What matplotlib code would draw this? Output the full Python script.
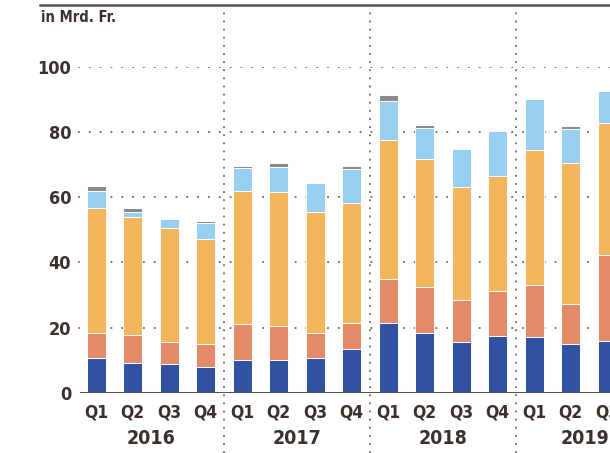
import matplotlib
matplotlib.use("Agg")
import matplotlib.pyplot as plt
import matplotlib.transforms as mtrans
import numpy as np

plt.rcParams['font.family'] = ['DejaVu Sans']
plt.rcParams['font.stretch'] = 'condensed'

years = ["2016", "2017", "2018", "2019"]
quarters = ["Q1", "Q2", "Q3", "Q4", "Q1", "Q2", "Q3", "Q4",
            "Q1", "Q2", "Q3", "Q4", "Q1", "Q2", "Q3"]
blue   = [10.6, 9.0, 8.7, 8.0, 10.0, 10.0, 10.6, 13.4, 21.3, 18.2, 15.6, 17.4, 17.2, 14.8, 15.9]
red    = [7.6, 8.7, 6.8, 7.0, 11.2, 10.4, 7.8, 7.9, 13.5, 14.1, 12.8, 13.8, 15.9, 12.3, 26.3]
orange = [38.5, 36.1, 35.2, 32.3, 40.6, 41.1, 37.1, 36.9, 42.8, 39.4, 34.8, 35.4, 41.3, 43.5, 40.6]
lblue  = [5.1, 1.7, 2.5, 4.8, 7.1, 7.9, 8.8, 10.4, 12.1, 9.5, 11.6, 13.8, 15.7, 10.5, 9.9]
gray   = [1.8, 1.1, 0.0, 0.6, 0.6, 1.0, 0.5, 1.1, 1.7, 1.1, 0.0, 0.4, 0.0, 0.7, 0.0]
yticks = [0, 20, 40, 60, 80, 100]

W, H = 610, 453
fig = plt.figure(figsize=(W / 100, H / 100), dpi=100)
ax_left, ax_bottom, ax_top = 78, 392.7, 67.0
ax = fig.add_axes([ax_left / W, (H - ax_bottom) / H, 1 - ax_left / W, (ax_bottom - ax_top) / H])

txt = "#3b302b"
fp = dict(family='DejaVu Sans', stretch='condensed', weight='bold')
series = [(blue, "#3152a2"), (red, "#e38b69"), (orange, "#f4b65d"),
          (lblue, "#97d0f1"), (gray, "#8a8a8a")]
x = np.arange(len(quarters))
bottom = np.zeros(len(quarters))
for vals, col in series:
    v = np.array(vals)
    ax.bar(x, v, width=0.52, bottom=bottom, color=col, edgecolor="white",
           linewidth=0.7, zorder=3)
    bottom += v

ax.set_xlim(-0.5, 14.08)
ax.set_ylim(0, 100)

for s in ax.spines.values():
    s.set_visible(False)
ax.axhline(0, color="#5b5552", lw=2.2, zorder=4, xmin=0.005)
for yv in yticks[1:]:
    ax.axhline(yv, color="#6f6a66", lw=1.3, linestyle=(0, (1, 5)), zorder=1)

ax.set_yticks(yticks)
ax.set_yticklabels([str(t) for t in yticks], fontsize=13, color=txt, **fp)
ax.tick_params(axis="y", length=0, pad=5)
ax.set_xticks(x)
ax.set_xticklabels(quarters, fontsize=12.5, color=txt, **fp)
ax.tick_params(axis="x", length=0, pad=8)

# year separators
y0 = (0 - (H - ax_bottom) / H) / ((ax_bottom - ax_top) / H)
y1 = ((H - 8) / H - (H - ax_bottom) / H) / ((ax_bottom - ax_top) / H)
for sx in [3.5, 7.5, 11.5]:
    ax.axvline(sx, ymin=y0, ymax=y1, color="#6f6a66", lw=1.3,
               linestyle=(0, (1, 3.5)), clip_on=False, zorder=2)

tr = mtrans.blended_transform_factory(ax.transData, fig.transFigure)
year_pos = [1.5, 5.5, 9.5, 13.4]
for xp, yr in zip(year_pos, years):
    ax.text(xp, (H - 439) / H, yr, transform=tr,
            ha="center", va="center", fontsize=14, color=txt, **fp)

fig.text(41 / W, (H - 18) / H, "in Mrd. Fr.", fontsize=10.5,
         color=txt, ha="left", va="center", **fp)
fig.add_artist(matplotlib.lines.Line2D([40 / W, 1], [(H - 5) / H] * 2,
                                       color="#5b5552", lw=1.8))

fig.savefig("out.png", dpi=100)
